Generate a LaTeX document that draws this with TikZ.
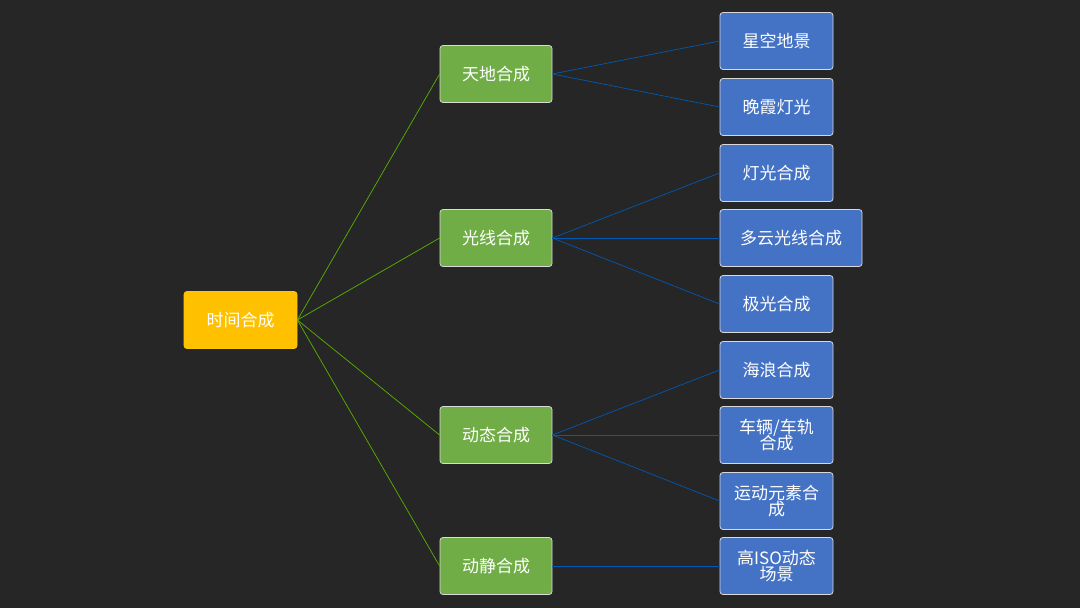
\documentclass[tikz,border=0pt]{standalone}
\usepackage{fontspec}
\setmainfont{Noto Sans CJK SC}
\begin{document}
\begin{tikzpicture}[x=1pt,y=-1pt,
 box/.style={draw=white!85!black,line width=0.8pt,rounded corners=3pt,minimum height=57pt,text=white,font=\fontsize{17}{19}\selectfont,align=center,inner sep=2pt},
 root/.style={box,fill=yellow!70!orange,minimum width=113pt,draw=yellow!60!orange},
 mid/.style={box,fill=green!45!black!60!yellow!80!white,minimum width=112pt},
 leaf/.style={box,fill=blue!40!cyan!60!black!80!white,minimum width=113pt,text width=105pt},
 gl/.style={draw=green!50!yellow!70!black,line width=0.7pt},
 bl/.style={draw=blue!50!cyan!70!black,line width=0.7pt}]
\definecolor{bg}{HTML}{262626}
\definecolor{gr}{HTML}{70AD47}
\definecolor{bu}{HTML}{4472C4}
\definecolor{ye}{HTML}{FFC000}
\fill[bg] (0,0) rectangle (1080,608);
\useasboundingbox (0,0) rectangle (1080,608);
\tikzset{root/.append style={fill=ye},mid/.append style={fill=gr},leaf/.append style={fill=bu}}
\node[root] (r) at (240.5,320) {时间合成};
\node[mid] (a) at (496,74) {天地合成};
\node[mid] (b) at (496,238) {光线合成};
\node[mid] (c) at (496,435) {动态合成};
\node[mid] (d) at (496,566) {动静合成};
\node[leaf] (a1) at (776.5,41) {星空地景};
\node[leaf] (a2) at (776.5,107) {晚霞灯光};
\node[leaf] (b1) at (776.5,173) {灯光合成};
\node[leaf,minimum width=142pt,text width=134pt] (b2) at (791,238) {多云光线合成};
\node[leaf] (b3) at (776.5,304) {极光合成};
\node[leaf] (c1) at (776.5,370) {海浪合成};
\node[leaf] (c2) at (776.5,435) {车辆/车轨\\[-3pt]合成};
\node[leaf] (c3) at (776.5,501) {运动元素合\\[-3pt]成};
\node[leaf] (d1) at (776.5,566) {高ISO动态\\[-3pt]场景};
\foreach \m in {a,b,c,d} \draw[gl] (r.east) -- (\m.west);
\foreach \p/\q in {a/a1,a/a2,b/b1,b/b2,b/b3,c/c1,c/c2,c/c3,d/d1} \draw[bl] (\p.east) -- (\q.west);
\end{tikzpicture}
\end{document}
